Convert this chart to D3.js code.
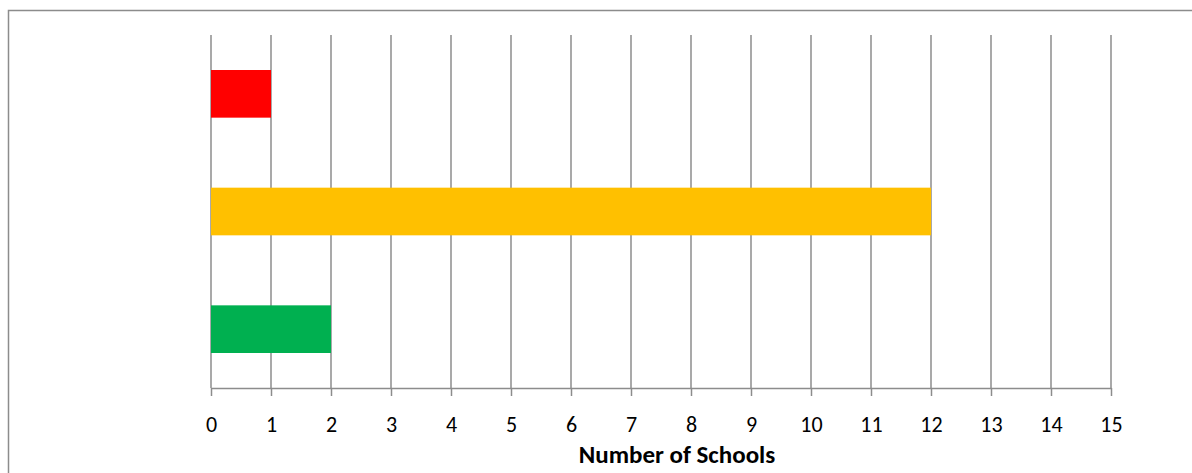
<!DOCTYPE html>
<html>
<head>
<meta charset="utf-8">
<script src="https://cdn.jsdelivr.net/npm/d3@7"></script>
<style>
  html, body { margin: 0; padding: 0; background: #fff; overflow: hidden; }
  svg { display: block; }
</style>
</head>
<body>
<svg id="chart" width="1192" height="473"></svg>
<script>
// Schools by RAG status
const categories = ["Red", "Amber", "Green"];
const values = [1, 12, 2];
const barColors = ["#FF0000", "#FFC000", "#00B050"];
const xTicks = d3.range(0, 16);
const xTitle = "Number of Schools";

const FONT = "Carlito, Lato, 'Open Sans', sans-serif";
const svg = d3.select("#chart");
const W = 1192, H = 473;
const margin = { left: 211, right: 81, top: 35, bottom: 85 };
const plotBottom = H - margin.bottom;

// chart frame (runs past the right and bottom edges)
svg.append("rect")
  .attr("x", 8.5).attr("y", 10.5)
  .attr("width", 1300).attr("height", 600)
  .attr("fill", "#fff")
  .attr("stroke", "#8c8c8c").attr("stroke-width", 1.5);

const x = d3.scaleLinear().domain([0, 15]).range([margin.left, W - margin.right]);
const y = d3.scaleBand().domain(categories).range([margin.top, plotBottom]).paddingInner(0.595).paddingOuter(0.2975);

// vertical gridlines
svg.append("g")
  .selectAll("line")
  .data(xTicks)
  .join("line")
  .attr("x1", d => x(d)).attr("x2", d => x(d))
  .attr("y1", margin.top).attr("y2", plotBottom)
  .attr("stroke", "#8c8c8c").attr("stroke-width", 1.5);

// bars
svg.append("g")
  .selectAll("rect")
  .data(categories)
  .join("rect")
  .attr("x", x(0))
  .attr("y", d => y(d))
  .attr("width", (d, i) => x(values[i]) - x(0))
  .attr("height", y.bandwidth())
  .attr("fill", (d, i) => barColors[i]);

// bottom axis
const axis = svg.append("g")
  .attr("transform", `translate(0,${plotBottom})`)
  .call(d3.axisBottom(x).tickValues(xTicks).tickSize(8).tickPadding(20).tickSizeOuter(0));
axis.attr("font-family", FONT).attr("font-size", 22);
axis.select(".domain").attr("stroke", "#8c8c8c").attr("stroke-width", 1.5);
axis.selectAll(".tick line").attr("stroke", "#8c8c8c").attr("stroke-width", 1.5);
axis.selectAll(".tick text").attr("fill", "#000");

// axis title
svg.append("text")
  .attr("x", 677)
  .attr("y", 463)
  .attr("text-anchor", "middle")
  .attr("font-family", FONT)
  .attr("font-weight", "bold")
  .attr("font-size", 25)
  .attr("fill", "#000")
  .text(xTitle);
</script>
</body>
</html>
